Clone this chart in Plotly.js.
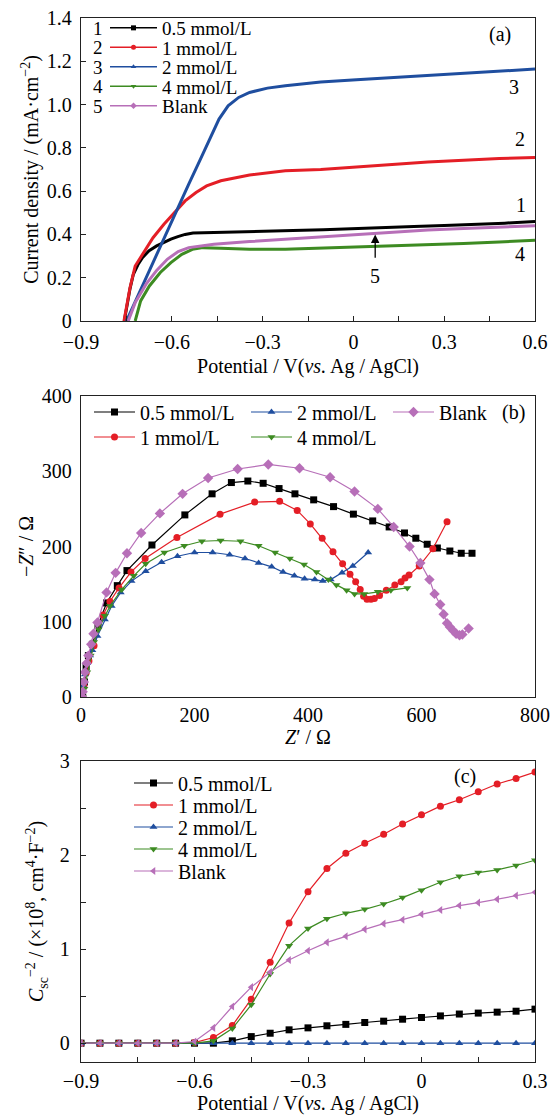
<!DOCTYPE html>
<html>
<head>
<meta charset="utf-8">
<script src="https://cdn.plot.ly/plotly-3.0.1.min.js"></script>
<style>html,body{margin:0;padding:0;background:#fff;}#chart{width:558px;height:1115px;}</style>
</head>
<body>
<div id="chart"></div>
<script>
// ---------- Data ----------
const seriesNames = ['0.5 mmol/L', '1 mmol/L', '2 mmol/L', '4 mmol/L', 'Blank'];
const colors = ['#000000', '#e41e26', '#1f4e9f', '#3d8b22', '#b76fb8'];

// Panel (a) LSV curves
const a_x_05 = [-0.757,-0.748,-0.738,-0.727,-0.712,-0.697,-0.675,-0.65,-0.625,-0.603,-0.58,-0.556,-0.53,-0.5,-0.45,-0.4,-0.3,-0.2,-0.1,0,0.1,0.2,0.3,0.4,0.5,0.6];
const a_y_05 = [0,0.08,0.15,0.216,0.26,0.293,0.325,0.347,0.365,0.378,0.39,0.40,0.407,0.408,0.408,0.41,0.412,0.418,0.422,0.428,0.432,0.437,0.441,0.446,0.452,0.46];
const a_x_1 = [-0.758,-0.738,-0.721,-0.697,-0.662,-0.626,-0.591,-0.556,-0.52,-0.485,-0.438,-0.343,-0.225,-0.108,0.01,0.128,0.246,0.364,0.482,0.6];
const a_y_1 = [0,0.154,0.254,0.308,0.385,0.447,0.501,0.555,0.594,0.624,0.648,0.675,0.694,0.70,0.712,0.725,0.735,0.743,0.751,0.755];
const a_x_2 = [-0.75,-0.721,-0.685,-0.65,-0.615,-0.579,-0.544,-0.508,-0.473,-0.444,-0.414,-0.379,-0.343,-0.284,-0.225,-0.108,0.01,0.128,0.246,0.364,0.482,0.6];
const a_y_2 = [0,0.09,0.2,0.308,0.416,0.524,0.632,0.74,0.848,0.933,0.994,1.033,1.056,1.076,1.087,1.104,1.115,1.125,1.136,1.145,1.155,1.164];
const a_x_4 = [-0.721,-0.703,-0.674,-0.638,-0.603,-0.567,-0.532,-0.497,-0.438,-0.343,-0.225,-0.108,0.01,0.128,0.246,0.364,0.482,0.6];
const a_y_4 = [0,0.093,0.162,0.224,0.27,0.308,0.331,0.339,0.336,0.331,0.331,0.336,0.342,0.347,0.352,0.358,0.365,0.373];
const a_x_b = [-0.744,-0.721,-0.685,-0.65,-0.615,-0.579,-0.544,-0.508,-0.461,-0.343,-0.225,-0.108,0.01,0.128,0.246,0.364,0.482,0.6];
const a_y_b = [0,0.085,0.17,0.234,0.285,0.321,0.339,0.347,0.355,0.367,0.378,0.389,0.401,0.412,0.421,0.427,0.433,0.44];

// Panel (b) Nyquist plots
const b_x_05 = [3,6,9,13,20,30,45,64,81,125,183,231,265,294,321,349,377,410,445,480,514,543,570,590,610,628,650,670,689];
const b_y_05 = [0,20,40,55,70,95,125,148,168,202,242,270,285,287,284,277,270,262,253,243,234,226,218,211,203,198,194,191,191];
const b_x_1 = [2,5,9,14,23,39,51,67,88,113,169,245,306,350,381,404,425,444,461,474,484,492,498,504,511,517,526,538,553,564,571,578,596,620,645];
const b_y_1 = [0,15,32,48,68,109,127,145,166,184,212,243,259,260,248,230,211,193,177,163,153,143,134,130,130,131,135,142,149,153,158,162,174,197,233];
const b_x_2 = [1,4,7,11,16,20,29,42,54,70,89,114,142,170,200,232,262,289,313,336,356,376,394,412,426,440,460,479,506];
const b_y_2 = [0,15,30,45,55,62,81,103,121,139,154,167,179,187,192,192,189,184,178,173,166,161,157,156,154,156,165,174,192];
const b_x_4 = [3,6,11,17,23,31,42,51,72,93,114,147,182,213,246,281,313,342,368,393,415,436,450,468,482,499,523,546,575];
const b_y_4 = [0,11,33,55,73,90,108,121,143,161,177,192,201,207,208,207,201,192,184,176,166,156,149,142,137,137,140,142,145];
const b_x_b = [2,3,5,7,10,13,18,22,29,45,61,81,106,139,179,224,276,330,385,439,482,523,551,579,598,614,623,633,639,645,650,656,661,667,672,683];
const b_y_b = [0,7,20,33,45,55,70,84,99,139,165,191,218,244,270,291,303,309,304,292,273,250,226,200,178,156,137,123,110,98,93,88,84,82,83,91];

// Panel (c) Mott-Schottky plots
const c_x = [-0.9,-0.85,-0.8,-0.75,-0.7,-0.65,-0.6,-0.55,-0.5,-0.45,-0.4,-0.35,-0.3,-0.25,-0.2,-0.15,-0.1,-0.05,0,0.05,0.1,0.15,0.2,0.25,0.3];
const c_y_05 = [0,0,0,0,0,0,0,0,0.025,0.07,0.106,0.142,0.163,0.185,0.2,0.22,0.234,0.255,0.273,0.29,0.31,0.32,0.33,0.34,0.362];
const c_y_1 = [0,0,0,0,0,0,0.007,0.06,0.188,0.468,0.86,1.278,1.61,1.857,2.02,2.126,2.222,2.33,2.428,2.52,2.588,2.673,2.755,2.815,2.883];
const c_y_2 = [0,0,0,0,0,0,0,0,0,0,0,0,0,0,0,0,0,0,0,0,0,0,0,0,0];
const c_y_4 = [0,0,0,0,0,0,0,0.025,0.156,0.408,0.735,1.037,1.218,1.324,1.381,1.423,1.48,1.548,1.626,1.711,1.775,1.814,1.842,1.889,1.945];
const c_y_b = [0,0,0,0,0,0,0.018,0.163,0.39,0.596,0.756,0.884,0.983,1.072,1.136,1.21,1.271,1.313,1.37,1.416,1.463,1.494,1.53,1.569,1.605];

// Tick labels
const aYTickVals = [0,0.2,0.4,0.6,0.8,1.0,1.2,1.4];
const aYTickText = ['0','0.2','0.4','0.6','0.8','1.0','1.2','1.4'];
const curveLabels = ['1','2','3','4','5'];

// ---------- Layout helpers ----------
const W = 558, H = 1115;
const px = v => v / W;
const py = v => 1 - v / H;
const FONT = '"Liberation Serif", "Times New Roman", serif';

const aX = [a_x_05, a_x_1, a_x_2, a_x_4, a_x_b];
const aY = [a_y_05, a_y_1, a_y_2, a_y_4, a_y_b];
const bX = [b_x_05, b_x_1, b_x_2, b_x_4, b_x_b];
const bY = [b_y_05, b_y_1, b_y_2, b_y_4, b_y_b];
const cY = [c_y_05, c_y_1, c_y_2, c_y_4, c_y_b];
const aSymbols = ['square', 'circle', 'triangle-up', 'triangle-down', 'diamond'];
const bSymbols = ['square', 'circle', 'triangle-up', 'triangle-down', 'diamond'];
const cSymbols = ['square', 'circle', 'triangle-up', 'triangle-down', 'triangle-left'];

// legend placement (pixels): [left x, centre y]
const legA = [[105, 28], [105, 47.5], [105, 67], [105, 86.5], [105, 106]];
const legB = [[89, 412], [89, 437], [246, 412], [246, 437], [388, 412]]; // 0.5, 1, 2, 4, Blank
const legC = [[129, 783], [129, 805], [129, 827], [129, 849], [129, 871]];

const traces = [];
const layout = {
  width: W, height: H,
  margin: {l: 0, r: 0, t: 0, b: 0},
  paper_bgcolor: '#fff', plot_bgcolor: '#fff',
  font: {family: FONT, size: 20, color: '#000'},
  showlegend: true,
  annotations: []
};

function legendName(n) { return n === 1 ? 'legend' : 'legend' + n; }
function makeLegend(x, y, iw, fs) {
  return {x: px(x), y: py(y), xanchor: 'left', yanchor: 'middle', orientation: 'v',
    bgcolor: 'rgba(0,0,0,0)', borderwidth: 0, itemwidth: iw,
    font: {family: FONT, size: fs, color: '#000'}};
}

// panel a data
for (let i = 0; i < 5; i++) {
  traces.push({x: aX[i], y: aY[i], xaxis: 'x', yaxis: 'y', mode: 'lines',
    line: {color: colors[i], width: 3}, showlegend: false, hoverinfo: 'skip'});
}
// panel a legend entries
for (let i = 0; i < 5; i++) {
  const ln = legendName(1 + i);
  traces.push({x: [null], y: [null], xaxis: 'x', yaxis: 'y', mode: 'lines+markers', name: seriesNames[i],
    line: {color: colors[i], width: 1.5}, marker: {symbol: aSymbols[i], size: 5, color: colors[i]},
    legend: ln, showlegend: true});
  layout[ln] = makeLegend(legA[i][0], legA[i][1], 47, 19);
}
// panel b
for (let i = 0; i < 5; i++) {
  const ln = legendName(6 + i);
  traces.push({x: bX[i], y: bY[i], xaxis: 'x2', yaxis: 'y2', mode: 'lines+markers', name: seriesNames[i],
    line: {color: colors[i], width: 1.2}, marker: {symbol: bSymbols[i], size: i === 4 ? 8 : 7, color: colors[i]},
    legend: ln, showlegend: true});
  layout[ln] = makeLegend(legB[i][0], legB[i][1], 41, 20);
}
// panel c
for (let i = 0; i < 5; i++) {
  const ln = legendName(11 + i);
  traces.push({x: c_x, y: cY[i], xaxis: 'x3', yaxis: 'y3', mode: 'lines+markers', name: seriesNames[i],
    line: {color: colors[i], width: 1.2}, marker: {symbol: cSymbols[i], size: 7, color: colors[i]},
    legend: ln, showlegend: true});
  layout[ln] = makeLegend(legC[i][0], legC[i][1], 39, 20);
}

const axisBase = {
  showline: true, mirror: true, linecolor: '#222', linewidth: 1.2,
  showgrid: false, zeroline: false,
  tickfont: {family: FONT, size: 20, color: '#000'}
};
const xDom = [px(81), px(535)];
const tickIn = {ticks: 'inside', ticklen: 5, tickcolor: '#222', tickwidth: 1};

Object.assign(layout, {
  // Panel a
  xaxis: Object.assign({}, axisBase, tickIn, {domain: xDom, anchor: 'y', range: [-0.9, 0.6],
    tickmode: 'linear', tick0: -0.9, dtick: 0.3, ticklabelstandoff: 3,
    minor: {dtick: 0.15, tick0: -0.9, ticks: 'inside', ticklen: 5, tickcolor: '#222'},
    title: {text: 'Potential / V(<i>vs.</i> Ag / AgCl)', font: {family: FONT, size: 20}, standoff: 6}}),
  yaxis: Object.assign({}, axisBase, tickIn, {domain: [py(321), py(18)], anchor: 'x', range: [0, 1.4],
    tickmode: 'array', tickvals: aYTickVals, ticktext: aYTickText, ticklabelstandoff: 4,
    title: {text: 'Current density / (mA·cm<sup>−2</sup>)', font: {family: FONT, size: 20}, standoff: 2}}),
  // Panel b
  xaxis2: Object.assign({}, axisBase, {domain: xDom, anchor: 'y2', range: [0, 800],
    tickmode: 'linear', tick0: 0, dtick: 200, ticks: '', ticklabelstandoff: 0,
    title: {text: '<i>Z</i>′ / Ω', font: {family: FONT, size: 20}, standoff: 4}}),
  yaxis2: Object.assign({}, axisBase, {domain: [py(697), py(396)], anchor: 'x2', range: [0, 400],
    tickmode: 'linear', tick0: 0, dtick: 100, ticks: '', ticklabelstandoff: 4,
    title: {text: '−<i>Z</i>″ / Ω', font: {family: FONT, size: 20}, standoff: 2}}),
  // Panel c
  xaxis3: Object.assign({}, axisBase, tickIn, {domain: xDom, anchor: 'y3', range: [-0.9, 0.3],
    tickmode: 'linear', tick0: -0.9, dtick: 0.3, ticklabelstandoff: 1,
    minor: {dtick: 0.15, tick0: -0.9, ticks: 'inside', ticklen: 5, tickcolor: '#222'},
    title: {text: 'Potential / V(<i>vs.</i> Ag / AgCl)', font: {family: FONT, size: 20}, standoff: 8}}),
  yaxis3: Object.assign({}, axisBase, tickIn, {domain: [py(1062), py(761)], anchor: 'x3', range: [-0.2, 3],
    tickmode: 'linear', tick0: 0, dtick: 1, ticklabelstandoff: 6,
    minor: {dtick: 0.5, tick0: 0, ticks: 'inside', ticklen: 5, tickcolor: '#222'},
    title: {text: '<i>C</i><sub>sc</sub><sup>−2</sup> / (×10<sup>8</sup>, cm<sup>4</sup>·F<sup>−2</sup>)', font: {family: FONT, size: 20}, standoff: 10}})
});

function ann(xref, yref, x, y, text, size) {
  return {xref: xref, yref: yref, x: x, y: y, text: text, showarrow: false,
    xanchor: 'center', yanchor: 'middle', font: {family: FONT, size: size, color: '#000'}};
}
// Panel labels
layout.annotations.push(ann('paper', 'paper', px(500), py(35), '(a)', 20));
layout.annotations.push(ann('paper', 'paper', px(513), py(412), '(b)', 20));
layout.annotations.push(ann('paper', 'paper', px(465), py(776), '(c)', 20));
// Legend numbers for panel a
for (let i = 0; i < 5; i++) {
  layout.annotations.push(ann('paper', 'paper', px(98), py(legA[i][1]), curveLabels[i], 19));
}
// Curve labels in panel a
const labPos = [[0.555, 0.535], [0.55, 0.84], [0.53, 1.08], [0.55, 0.31], [0.072, 0.21]];
for (let i = 0; i < 5; i++) {
  layout.annotations.push(ann('x', 'y', labPos[i][0], labPos[i][1], curveLabels[i], 20));
}
// Arrow pointing to curve 5
layout.annotations.push({xref: 'x', yref: 'y', axref: 'x', ayref: 'y', x: 0.072, y: 0.40, ax: 0.072, ay: 0.285,
  text: '', showarrow: true, arrowhead: 2, arrowsize: 1.3, arrowwidth: 1.3, arrowcolor: '#000'});

Plotly.newPlot('chart', traces, layout, {staticPlot: true, displayModeBar: false});
</script>
</body>
</html>
